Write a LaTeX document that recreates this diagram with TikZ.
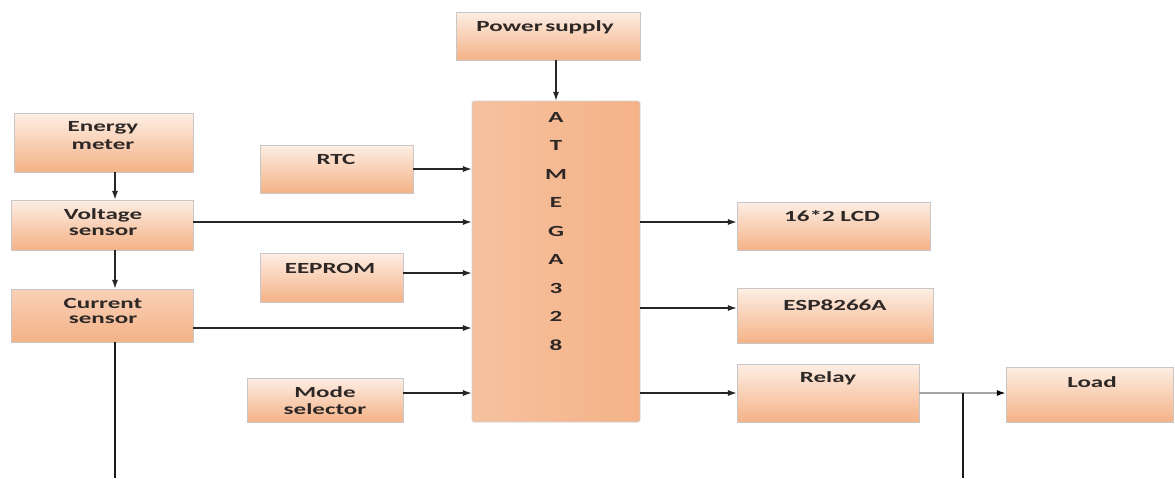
\documentclass[tikz,border=0pt]{standalone}
\usepackage{fontspec}
\setmainfont{Carlito}[FakeStretch=1.62]
\usetikzlibrary{arrows.meta,calc}
\definecolor{peachD}{RGB}{244,178,135}
\definecolor{peachL}{RGB}{253,238,228}
\definecolor{peachM}{RGB}{251,230,214}
\definecolor{txt}{RGB}{45,40,38}
\tikzset{
  px/.style={x=0.02cm,y=-0.02cm},
  box/.style={rectangle,draw=black!22,line width=0.5pt,top color=peachL,bottom color=peachD,inner sep=0pt},
  mcubox/.style={rectangle,draw=black!18,line width=0.5pt,left color=peachD!80!white,middle color=peachM,right color=peachD,rounded corners=1pt,inner sep=0pt},
  lbl/.style={font=\fontsize{8.8}{8.6}\selectfont\bfseries,text=txt,align=center,inner sep=0pt},
  arr/.style={-{Latex[length=5pt,width=3.5pt]},line width=0.6pt,draw=black!85},
  ln/.style={line width=0.8pt,draw=black!90},
}
\begin{document}
\begin{tikzpicture}[px]
\useasboundingbox (0,0) rectangle (1175,478);
% boxes
\node[box,minimum width=179*0.02cm,minimum height=59*0.02cm] (em) at (103.5,142.5) {};
\node[box,minimum width=182*0.02cm,minimum height=50*0.02cm] (vs) at (102,225) {};
\node[box,minimum width=182*0.02cm,minimum height=53*0.02cm,top color=peachD!60!white] (cs) at (102,315.5) {};
\node[box,minimum width=184*0.02cm,minimum height=48*0.02cm] (ps) at (548,36) {};
\node[box,minimum width=153*0.02cm,minimum height=48*0.02cm] (rtc) at (336.5,169) {};
\node[box,minimum width=143*0.02cm,minimum height=49*0.02cm] (ee) at (331.5,277.5) {};
\node[box,minimum width=156*0.02cm,minimum height=44*0.02cm] (ms) at (325,400) {};
\node[mcubox,minimum width=168*0.02cm,minimum height=321*0.02cm] (mcu) at (556,261.5) {};
\node[box,minimum width=193*0.02cm,minimum height=48*0.02cm] (lcd) at (833.5,226) {};
\node[box,minimum width=196*0.02cm,minimum height=55*0.02cm] (esp) at (835,315.5) {};
\node[box,minimum width=182*0.02cm,minimum height=58*0.02cm] (relay) at (828,393) {};
\node[box,minimum width=167*0.02cm,minimum height=55*0.02cm] (load) at (1089.5,394.5) {};
% labels
\node[lbl] (tem1) at (103,128) {Energy};
\node[lbl] (tem2) at (103,145) {meter};
\node[lbl] (tvs1) at (103,215) {Voltage};
\node[lbl] (tvs2) at (103,232) {sensor};
\node[lbl] (tcs1) at (103,303) {Current};
\node[lbl] (tcs2) at (103,320) {sensor};
\node[lbl] (tps) at (545,27) {Power\,supply};
\node[lbl] (trtc) at (336,159) {RTC};
\node[lbl] (tee) at (330,268) {EEPROM};
\node[lbl] (tms1) at (325,392) {Mode};
\node[lbl] (tms2) at (325,409) {selector};
\node[lbl] (tlcd) at (832,216) {16*2 LCD};
\node[lbl] (tesp) at (835,305) {ESP8266A};
\node[lbl] (trel) at (828,378) {Relay};
\node[lbl] (tload) at (1092,382) {Load};
\foreach \ch [count=\i from 0] in {A,T,M,E,G,A,3,2,8}
  \node[lbl] (m\i) at (556,{117+28.5*\i}) {\ch};
% helper coordinates
\coordinate (col) at (115,0);
\coordinate (bot) at (0,478);
\coordinate (j) at (963,393);
\coordinate (rvs) at (0,222);
\coordinate (rcs) at (0,328);
\coordinate (ree) at (0,273);
\coordinate (rms) at (0,393);
\coordinate (rlcd) at (0,222);
\coordinate (resp) at (0,308);
% connectors
\draw[arr] (mcu.north |- ps.south) -- (mcu.north);
\draw[arr] (em.south -| col) -- (vs.north -| col);
\draw[arr] (vs.south -| col) -- (cs.north -| col);
\draw[ln] (cs.south -| col) -- (bot -| col);
\draw[arr] (vs.east |- rvs) -- (mcu.west |- rvs);
\draw[arr] (cs.east |- rcs) -- (mcu.west |- rcs);
\draw[arr] (rtc.east) -- (rtc.east -| mcu.west);
\draw[arr] (ee.east |- ree) -- (mcu.west |- ree);
\draw[arr] (ms.east |- rms) -- (mcu.west |- rms);
\draw[arr] (mcu.east |- rlcd) -- (lcd.west |- rlcd);
\draw[arr] (mcu.east |- resp) -- (esp.west |- resp);
\draw[arr] (mcu.east |- relay.west) -- (relay.west);
\draw[-{Latex[length=5pt,width=3.5pt,color=black]},line width=0.8pt,draw=black!35] (relay.east) -- (relay.east -| load.west);
\draw[ln] (j) -- (j |- bot);
\end{tikzpicture}
\end{document}
